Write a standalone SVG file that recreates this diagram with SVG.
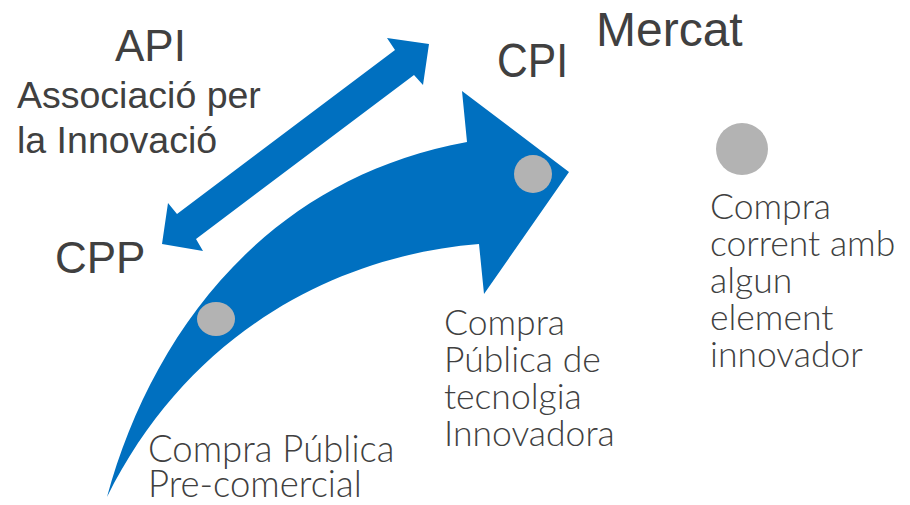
<svg xmlns="http://www.w3.org/2000/svg" width="910" height="505" viewBox="0 0 910 505">
<style>
.blue{fill:#0070c0}
.dot{fill:#b3b3b3}
.t{font-family:"Liberation Sans",Arial,sans-serif;fill:#404040}
.l{font-family:Lato,"Liberation Sans",sans-serif;font-weight:300;fill:#404040;font-size:35.5px}
.lb{font-size:36.5px}
</style>
<rect width="910" height="505" fill="#ffffff"/>
<g id="connectors">
<path id="double-arrow" class="blue" d="M429,44 L387,38 L395,50 L177,214 L168,203 L162,244 L203,251 L196,239 L414,75 L423,85 Z"/>
<path id="big-arrow" class="blue" d="M107,497 C150,340 260,180 467,142 L462,91 L569,172 L484,294 L479,244 C340,255 190,330 107,497 Z"/>
</g>
<g id="node-api">
<text class="t" x="115" y="61" font-size="44">API</text>
<text class="t" x="17" y="108" font-size="37.5">Associació per</text>
<text class="t" x="17" y="153" font-size="37.5">la Innovació</text>
</g>
<g id="node-cpp">
<text class="t" x="55" y="273" font-size="44">CPP</text>
<ellipse class="dot" cx="216" cy="319" rx="19" ry="17"/>
<text class="l lb" x="148" y="462">Compra Pública</text>
<text class="l lb" x="148" y="497">Pre-comercial</text>
</g>
<g id="node-cpi">
<text class="t" x="497" y="77" font-size="48" textLength="71" lengthAdjust="spacingAndGlyphs">CPI</text>
<circle class="dot" cx="533" cy="174" r="19"/>
<text class="l" x="444" y="335">Compra</text>
<text class="l" x="444" y="372">Pública de</text>
<text class="l" x="444" y="409">tecnolgia</text>
<text class="l" x="444" y="446">Innovadora</text>
</g>
<g id="node-mercat">
<text class="t" x="596" y="46" font-size="48">Mercat</text>
<circle class="dot" cx="742" cy="149" r="26"/>
<text class="l" x="710" y="219">Compra</text>
<text class="l" x="710" y="256">corrent amb</text>
<text class="l" x="710" y="293">algun</text>
<text class="l" x="710" y="330">element</text>
<text class="l" x="710" y="367">innovador</text>
</g>
</svg>
